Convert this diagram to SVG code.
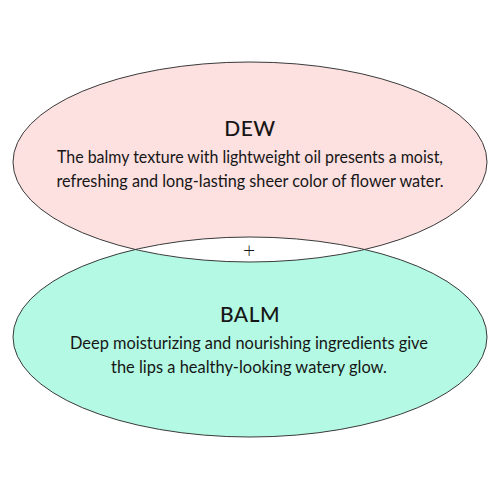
<svg xmlns="http://www.w3.org/2000/svg" width="500" height="500" viewBox="0 0 500 500">
<style>
.t{font-family:Lato,"Liberation Sans",sans-serif;fill:#161616;text-anchor:middle}
.h{font-size:21px;font-weight:500;letter-spacing:0.5px}
.b{font-size:17px}
.o{fill:none;stroke:#3a3a3a;stroke-width:1}
</style>
<defs>
<clipPath id="topClip"><ellipse cx="250" cy="162" rx="237" ry="100"/></clipPath>
</defs>
<rect width="500" height="500" fill="#fff"/>
<g id="dew">
<ellipse cx="250" cy="162" rx="237" ry="100" fill="#fde0e0"/>
</g>
<g id="balm">
<ellipse cx="250" cy="337" rx="237" ry="100" fill="#b3f9e3"/>
</g>
<g id="overlap">
<ellipse cx="250" cy="337" rx="237" ry="100" fill="#fff" clip-path="url(#topClip)"/>
</g>
<g id="outlines">
<ellipse class="o" cx="250" cy="162" rx="237" ry="100"/>
<ellipse class="o" cx="250" cy="337" rx="237" ry="100"/>
</g>
<g id="dew-text">
<text class="t h" x="250" y="136">DEW</text>
<text class="t b" x="250" y="163" textLength="386" lengthAdjust="spacingAndGlyphs">The balmy texture with lightweight oil presents a moist,</text>
<text class="t b" x="250" y="187" textLength="387" lengthAdjust="spacingAndGlyphs">refreshing and long-lasting sheer color of flower water.</text>
</g>
<g id="plus">
<text class="t" x="249" y="258" font-size="21" font-weight="300">+</text>
</g>
<g id="balm-text">
<text class="t h" x="250" y="322">BALM</text>
<text class="t b" x="249" y="349" textLength="358" lengthAdjust="spacingAndGlyphs">Deep moisturizing and nourishing ingredients give</text>
<text class="t b" x="249" y="373" textLength="276" lengthAdjust="spacingAndGlyphs">the lips a healthy-looking watery glow.</text>
</g>
</svg>
